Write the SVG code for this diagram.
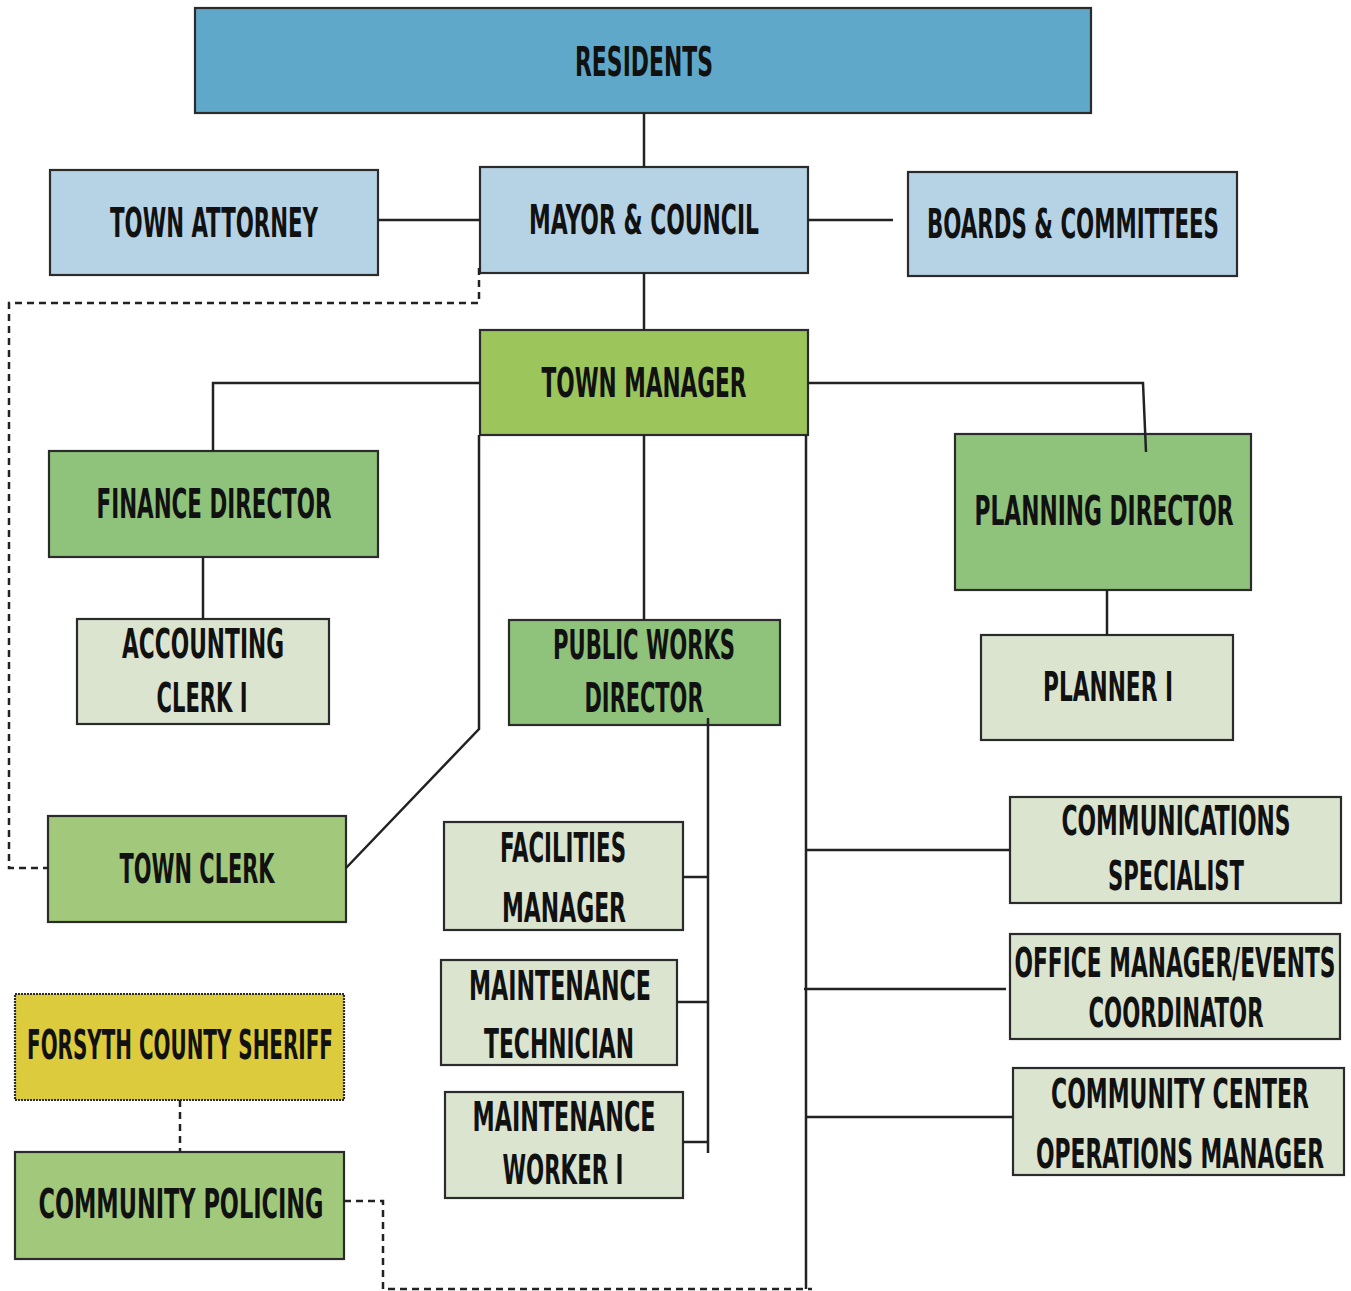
<svg xmlns="http://www.w3.org/2000/svg" width="1351" height="1291" viewBox="0 0 1351 1291">
<style>
.box{stroke:#2b2b2b;stroke-width:2.2}
.t{font-family:"DejaVu Sans Condensed","DejaVu Sans",sans-serif;font-weight:bold;font-size:41px;fill:#111;text-anchor:middle}
.c{fill:none;stroke:#222;stroke-width:2.5}
.d{fill:none;stroke:#222;stroke-width:2.5;stroke-dasharray:7 5}
.blue{fill:#5fa8c9}
.lblue{fill:#b6d3e5}
.tm{fill:#9cc55b}
.mg{fill:#8fc27b}
.lg{fill:#dae4cf}
.cg{fill:#a2c97b}
.yel{fill:#dccb3c}
</style>
<rect width="1351" height="1291" fill="#ffffff"/>
<g id="residents"><rect class="box blue" x="195" y="8" width="896" height="105"/><text class="t" transform="translate(644,76) scale(0.62,1)" font-size="45" textLength="222.6" lengthAdjust="spacingAndGlyphs">RESIDENTS</text></g>
<g id="town-attorney"><rect class="box lblue" x="50" y="170" width="328" height="105"/><text class="t" transform="translate(214,237) scale(0.62,1)" textLength="335.5" lengthAdjust="spacingAndGlyphs">TOWN ATTORNEY</text></g>
<g id="mayor-council"><rect class="box lblue" x="480" y="167" width="328" height="106"/><text class="t" transform="translate(644,234) scale(0.62,1)" textLength="371" lengthAdjust="spacingAndGlyphs">MAYOR &amp; COUNCIL</text></g>
<g id="boards-committees"><rect class="box lblue" x="908" y="172" width="329" height="104"/><text class="t" transform="translate(1073,238) scale(0.62,1)" textLength="471" lengthAdjust="spacingAndGlyphs">BOARDS &amp; COMMITTEES</text></g>
<g id="town-manager"><rect class="box tm" x="480" y="330" width="328" height="105"/><text class="t" transform="translate(644,397) scale(0.62,1)" textLength="330.6" lengthAdjust="spacingAndGlyphs">TOWN MANAGER</text></g>
<g id="finance-director"><rect class="box mg" x="49" y="451" width="329" height="106"/><text class="t" transform="translate(214,518) scale(0.62,1)" textLength="379" lengthAdjust="spacingAndGlyphs">FINANCE DIRECTOR</text></g>
<g id="accounting-clerk"><rect class="box lg" x="77" y="619" width="252" height="105"/><text class="t" transform="translate(203,658) scale(0.62,1)" textLength="261.3" lengthAdjust="spacingAndGlyphs">ACCOUNTING</text><text class="t" transform="translate(202,712) scale(0.62,1)" textLength="146.8" lengthAdjust="spacingAndGlyphs">CLERK I</text></g>
<g id="planning-director"><rect class="box mg" x="955" y="434" width="296" height="156"/><text class="t" transform="translate(1104,525) scale(0.62,1)" textLength="417.7" lengthAdjust="spacingAndGlyphs">PLANNING DIRECTOR</text></g>
<g id="planner"><rect class="box lg" x="981" y="635" width="252" height="105"/><text class="t" transform="translate(1108,701) scale(0.62,1)" textLength="209.7" lengthAdjust="spacingAndGlyphs">PLANNER I</text></g>
<g id="public-works-director"><rect class="box mg" x="509" y="620" width="271" height="105"/><text class="t" transform="translate(644,659) scale(0.62,1)" textLength="293.5" lengthAdjust="spacingAndGlyphs">PUBLIC WORKS</text><text class="t" transform="translate(644,712) scale(0.62,1)" textLength="191.9" lengthAdjust="spacingAndGlyphs">DIRECTOR</text></g>
<g id="town-clerk"><rect class="box cg" x="48" y="816" width="298" height="106"/><text class="t" transform="translate(197,883) scale(0.62,1)" textLength="250" lengthAdjust="spacingAndGlyphs">TOWN CLERK</text></g>
<g id="facilities-manager"><rect class="box lg" x="444" y="822" width="239" height="108"/><text class="t" transform="translate(563,862) scale(0.62,1)" textLength="203.2" lengthAdjust="spacingAndGlyphs">FACILITIES</text><text class="t" transform="translate(564,922) scale(0.62,1)" textLength="200" lengthAdjust="spacingAndGlyphs">MANAGER</text></g>
<g id="maintenance-technician"><rect class="box lg" x="441" y="960" width="236" height="105"/><text class="t" transform="translate(560,1000) scale(0.62,1)" textLength="293.5" lengthAdjust="spacingAndGlyphs">MAINTENANCE</text><text class="t" transform="translate(559,1058) scale(0.62,1)" textLength="241.9" lengthAdjust="spacingAndGlyphs">TECHNICIAN</text></g>
<g id="maintenance-worker"><rect class="box lg" x="445" y="1092" width="238" height="106"/><text class="t" transform="translate(564,1131) scale(0.62,1)" textLength="295.2" lengthAdjust="spacingAndGlyphs">MAINTENANCE</text><text class="t" transform="translate(563,1184) scale(0.62,1)" textLength="195.2" lengthAdjust="spacingAndGlyphs">WORKER I</text></g>
<g id="communications-specialist"><rect class="box lg" x="1010" y="797" width="331" height="106"/><text class="t" transform="translate(1176,835) scale(0.62,1)" textLength="369.4" lengthAdjust="spacingAndGlyphs">COMMUNICATIONS</text><text class="t" transform="translate(1176,890) scale(0.62,1)" textLength="219.4" lengthAdjust="spacingAndGlyphs">SPECIALIST</text></g>
<g id="office-manager"><rect class="box lg" x="1010" y="934" width="330" height="105"/><text class="t" transform="translate(1175,977) scale(0.62,1)" textLength="517.7" lengthAdjust="spacingAndGlyphs">OFFICE MANAGER/EVENTS</text><text class="t" transform="translate(1176,1027) scale(0.62,1)" textLength="282.3" lengthAdjust="spacingAndGlyphs">COORDINATOR</text></g>
<g id="community-center"><rect class="box lg" x="1013" y="1068" width="331" height="107"/><text class="t" transform="translate(1180,1108) scale(0.62,1)" textLength="416.1" lengthAdjust="spacingAndGlyphs">COMMUNITY CENTER</text><text class="t" transform="translate(1180,1168) scale(0.62,1)" textLength="464.5" lengthAdjust="spacingAndGlyphs">OPERATIONS MANAGER</text></g>
<g id="forsyth-county-sheriff"><rect class="box yel" x="15" y="994" width="329" height="106" stroke-dasharray="2 1"/><text class="t" transform="translate(180,1059) scale(0.62,1)" textLength="493.5" lengthAdjust="spacingAndGlyphs">FORSYTH COUNTY SHERIFF</text></g>
<g id="community-policing"><rect class="box cg" x="15" y="1152" width="329" height="107"/><text class="t" transform="translate(181,1218) scale(0.62,1)" textLength="459.7" lengthAdjust="spacingAndGlyphs">COMMUNITY POLICING</text></g>
<g id="connectors">
<line class="c" x1="644" y1="113" x2="644" y2="167"/>
<line class="c" x1="644" y1="273" x2="644" y2="330"/>
<line class="c" x1="378" y1="220" x2="480" y2="220"/>
<line class="c" x1="808" y1="220" x2="893" y2="220"/>
<polyline class="c" points="480,383 213,383 213,451"/>
<line class="c" x1="203" y1="557" x2="203" y2="619"/>
<polyline class="c" points="479,435 479,729 346,868"/>
<line class="c" x1="644" y1="435" x2="644" y2="620"/>
<polyline class="c" points="808,383 1143,383 1146,452"/>
<line class="c" x1="1107" y1="590" x2="1107" y2="635"/>
<line class="c" x1="806" y1="435" x2="806" y2="1289"/>
<line class="c" x1="806" y1="850" x2="1010" y2="850"/>
<line class="c" x1="804" y1="989" x2="1006" y2="989"/>
<line class="c" x1="806" y1="1117" x2="1013" y2="1117"/>
<line class="c" x1="708" y1="718" x2="708" y2="1153"/>
<line class="c" x1="683" y1="877" x2="708" y2="877"/>
<line class="c" x1="677" y1="1002" x2="708" y2="1002"/>
<line class="c" x1="683" y1="1142" x2="708" y2="1142"/>
<polyline class="d" points="479,268 479,303 9,303 9,868 48,868"/>
<line class="d" x1="180" y1="1100" x2="180" y2="1152"/>
<polyline class="d" points="344,1201 383,1201 383,1289 812,1289"/>
</g>
</svg>
